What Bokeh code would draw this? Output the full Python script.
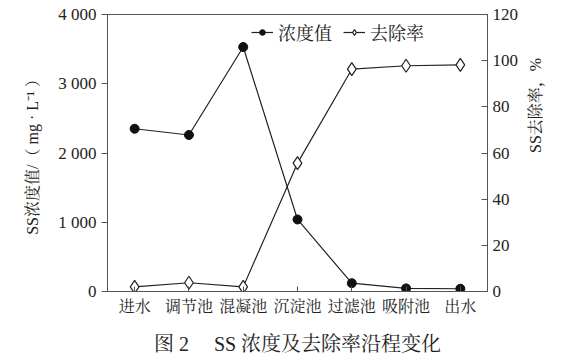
from bokeh.plotting import figure
from bokeh.models import (Range1d, LinearAxis, FixedTicker, Legend, LegendItem,
                          Title, FactorRange)
from bokeh.embed import file_html
from bokeh.resources import INLINE
import math

# Treatment stages along the process
stages = ["进水", "调节池", "混凝池", "沉淀池", "过滤池", "吸附池", "出水"]
# SS concentration, mg/L
ss_conc = [2350, 2260, 3530, 1040, 120, 45, 40]
# SS removal rate, %
ss_removal = [2.0, 3.8, 2.0, 55.6, 96.3, 97.8, 98.2]

conc_ticks = [0, 1000, 2000, 3000, 4000]
conc_tick_labels = ["0", "1 000", "2 000", "3 000", "4 000"]
rate_ticks = [0, 20, 40, 60, 80, 100, 120]

FONT = "Liberation Serif, Noto Serif CJK SC, Noto Sans CJK SC"
AXIS_COLOR = "#555555"

p = figure(x_range=FactorRange(*stages), y_range=Range1d(0, 4000),
           frame_width=380, frame_height=277,
           min_border_left=107, min_border_right=87,
           min_border_top=14, min_border_bottom=71,
           output_backend="svg", toolbar_location=None)
p.background_fill_color = "white"
p.border_fill_color = "white"
p.outline_line_color = AXIS_COLOR
p.outline_line_width = 1
p.xgrid.visible = False
p.ygrid.visible = False

p.extra_y_ranges = {"rate": Range1d(0, 120)}

# concentration series (left axis)
l1 = p.line(stages, ss_conc, line_color="#222222", line_width=1.2)
m1 = p.scatter(stages, ss_conc, marker="circle", size=9,
               fill_color="#111111", line_color="#111111")

# removal rate series (right axis)
l2 = p.line(stages, ss_removal, line_color="#222222", line_width=1.2,
            y_range_name="rate")
m2 = p.scatter(stages, ss_removal, marker="diamond", size=13,
               fill_color="white", line_color="#222222", line_width=1.2,
               y_range_name="rate")

# left axis
ya = p.yaxis[0]
ya.ticker = FixedTicker(ticks=conc_ticks)
ya.major_label_overrides = {t: s for t, s in zip(conc_ticks, conc_tick_labels)}
ya.axis_label = "SS浓度值/（ mg · L⁻¹ ）"
ya.axis_label_standoff = 14
ya.major_tick_out = 6
ya.major_tick_in = 0
ya.minor_tick_out = 0
ya.minor_tick_in = 0

# right axis
ra = LinearAxis(y_range_name="rate", ticker=FixedTicker(ticks=rate_ticks))
ra.axis_label = "SS去除率，%"
ra.axis_label_orientation = math.pi / 2
ra.axis_label_standoff = 14
ra.major_tick_in = 6
ra.major_tick_out = 0
ra.minor_tick_in = 0
ra.minor_tick_out = 0
p.add_layout(ra, "right")

xa = p.xaxis[0]
xa.major_tick_in = 5
xa.major_tick_out = 0
xa.major_label_standoff = 6

for ax in (xa, ya, ra):
    ax.axis_line_color = AXIS_COLOR
    ax.major_tick_line_color = AXIS_COLOR
    ax.major_label_text_font = FONT
    ax.major_label_text_color = "#222222"
    ax.axis_label_text_font = FONT
    ax.axis_label_text_font_style = "normal"
    ax.axis_label_text_color = "#222222"
    ax.axis_label_text_font_size = "16px"
ya.major_label_text_font_size = "17px"
ra.major_label_text_font_size = "17px"
xa.major_label_text_font_size = "16px"

legend = Legend(items=[LegendItem(label="浓度值", renderers=[l1, m1]),
                       LegendItem(label="去除率", renderers=[l2, m2])],
                orientation="horizontal", location=(144, 246),
                border_line_color=None, background_fill_alpha=0,
                label_text_font=FONT, label_text_font_size="18px",
                label_text_color="#222222",
                glyph_width=22, glyph_height=14, spacing=11,
                label_standoff=5, padding=4, margin=0)
p.add_layout(legend)

caption = Title(text="图 2\u00a0\u3000SS 浓度及去除率沿程变化", align="center",
                text_font=FONT, text_font_size="20px",
                text_font_style="normal", text_color="#222222",
                standoff=27)
p.add_layout(caption, "below")

open("out.html", "w").write(file_html(p, INLINE))
